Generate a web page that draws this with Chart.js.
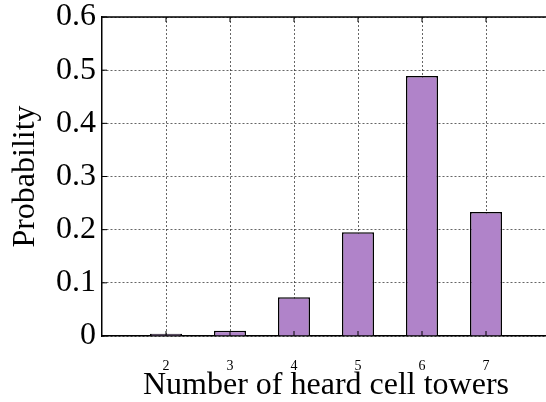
<!DOCTYPE html>
<html>
<head>
<meta charset="utf-8">
<script src="https://cdn.jsdelivr.net/npm/chart.js@4"></script>
<style>
  html, body { margin: 0; padding: 0; background: #fff; overflow: hidden; }
  #wrap { width: 552px; height: 402px; }
</style>
</head>
<body>
<div id="wrap"><canvas id="chart" width="552" height="402"></canvas></div>
<script>
// values
const towers = [2, 3, 4, 5, 6, 7];
const probability = [0.004, 0.010, 0.073, 0.195, 0.489, 0.233];
const yTicks = [0, 0.1, 0.2, 0.3, 0.4, 0.5, 0.6];
const yLabels = ['0', '0.1', '0.2', '0.3', '0.4', '0.5', '0.6'];

const FONT = 'Liberation Serif';
const gridDash = [2, 2];
const gridColor = 'rgba(0,0,0,0.6)';

// gnuplot-like frame: top border + inward tick marks
const frame = {
  id: 'frame',
  afterDraw(c) {
    const { ctx, chartArea: a, scales } = c;
    ctx.save();
    ctx.strokeStyle = '#000';
    ctx.lineWidth = 1.5;
    ctx.beginPath();
    ctx.moveTo(a.left, a.top);
    ctx.lineTo(a.right, a.top);
    ctx.stroke();
    ctx.lineWidth = 1;
    ctx.beginPath();
    yTicks.forEach(v => {
      const y = scales.y.getPixelForValue(v);
      ctx.moveTo(a.left, y); ctx.lineTo(a.left + 5, y);
    });
    towers.forEach(v => {
      const x = scales.x.getPixelForValue(v);
      ctx.moveTo(x, a.bottom); ctx.lineTo(x, a.bottom - 5);
      ctx.moveTo(x, a.top); ctx.lineTo(x, a.top + 5);
    });
    ctx.stroke();
    ctx.restore();
  }
};

new Chart(document.getElementById('chart').getContext('2d'), {
  type: 'bar',
  data: {
    datasets: [{
      data: towers.map((t, i) => ({ x: t, y: probability[i] })),
      backgroundColor: '#b083c9',
      borderColor: '#000',
      borderWidth: 1.5,
      barPercentage: 0.5,
      categoryPercentage: 1
    }]
  },
  options: {
    responsive: false,
    animation: false,
    layout: { padding: { top: 17, left: 0, right: 2, bottom: 0 } },
    plugins: { legend: { display: false }, tooltip: { enabled: false } },
    scales: {
      x: {
        type: 'linear',
        min: 1, max: 8,
        offset: false,
        afterBuildTicks: s => { s.ticks = towers.map(v => ({ value: v })); },
        afterFit: s => { s.height = 66; s.paddingLeft = 0; s.paddingRight = 0; },
        grid: { color: gridColor, drawTicks: false, offset: false },
        border: { display: true, color: '#000', width: 1.5, dash: gridDash },
        ticks: { color: '#000', padding: 22, font: { family: FONT, size: 14 }, callback: v => String(v) },
        title: { display: true, text: 'Number of heard cell towers', color: '#000',
                 font: { family: FONT, size: 32 }, padding: { top: 0, bottom: -3 } }
      },
      y: {
        min: 0, max: 0.6,
        afterBuildTicks: s => { s.ticks = yTicks.map(v => ({ value: v })); },
        afterFit: s => { s.width = 102; s.paddingTop = 0; s.paddingBottom = 0; },
        grid: { color: gridColor, drawTicks: false },
        border: { display: true, color: '#000', width: 1.5, dash: gridDash },
        ticks: { color: '#000', padding: 6, font: { family: FONT, size: 32 },
                 callback: (v) => yLabels[yTicks.indexOf(Math.round(v * 10) / 10)] },
        title: { display: true, text: 'Probability', color: '#000',
                 font: { family: FONT, size: 32 }, padding: { top: 6, bottom: 0 } }
      }
    }
  },
  plugins: [frame]
});
</script>
</body>
</html>
